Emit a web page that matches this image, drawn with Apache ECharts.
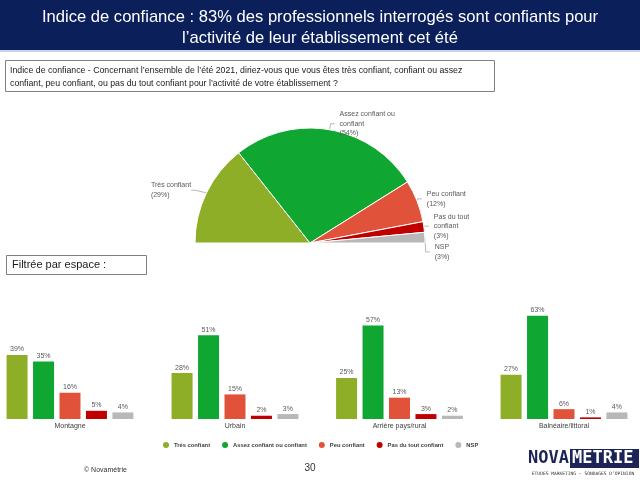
<!DOCTYPE html>
<html><head><meta charset="utf-8">
<script src="https://cdn.jsdelivr.net/npm/echarts@6/dist/echarts.min.js"></script>
<style>html,body{margin:0;padding:0;background:#fff}#c{width:640px;height:480px}</style>
</head><body><div id="c"></div>
<script>
const titleLines = ['Indice de confiance : 83% des professionnels interrogés sont confiants pour', 'l’activité de leur établissement cet été'];
const questionLines = ['Indice de confiance - Concernant l’ensemble de l’été 2021, diriez-vous que vous êtes très confiant, confiant ou assez', 'confiant, peu confiant, ou pas du tout confiant pour l’activité de votre établissement ?'];
const filterLabel = 'Filtrée par espace :';
const answerNames = ['Très confiant', 'Assez confiant ou confiant', 'Peu confiant', 'Pas du tout confiant', 'NSP'];
const pieLabelNames = ['Très confiant', 'Assez confiant ou\nconfiant', 'Peu confiant', 'Pas du tout\nconfiant', 'NSP'];
const pieValues = [29, 54, 12, 3, 3];
const spaces = ['Montagne', 'Urbain', 'Arrière pays/rural', 'Balnéaire/littoral'];
const tresConfiant = [39, 28, 25, 27];
const assezConfiant = [35, 51, 57, 63];
const peuConfiant = [16, 15, 13, 6];
const pasDuTout = [5, 2, 3, 1];
const nsp = [4, 3, 2, 4];
const barSeriesValues = [tresConfiant, assezConfiant, peuConfiant, pasDuTout, nsp];
const pageNumber = '30';
const copyright = '© Novamétrie';

const colors = ['#8FAE28', '#10A632', '#E0533A', '#C00000', '#B8B8B8'];
const FONT = 'Liberation Sans, Arial, sans-serif';
const groupCenters = [70, 235, 399.5, 564];
const groupWidth = 140;

const chart = echarts.init(document.getElementById('c'), null, {renderer: 'canvas'});

const grids = spaces.map((s, g) => ({left: groupCenters[g] - groupWidth / 2, width: groupWidth, top: 255, bottom: 61}));
const xAxes = spaces.map((s, g) => ({
  type: 'category', gridIndex: g, data: [s],
  axisLine: {show: false}, axisTick: {show: false},
  axisLabel: {fontSize: 7, color: '#404040', margin: 4, fontFamily: FONT}
}));
const yAxes = spaces.map((s, g) => ({type: 'value', gridIndex: g, min: 0, max: 100, show: false, splitLine: {show: false}}));
const barSeries = [];
spaces.forEach((s, g) => {
  answerNames.forEach((n, i) => {
    barSeries.push({
      type: 'bar', name: n, data: [barSeriesValues[i][g]], xAxisIndex: g, yAxisIndex: g,
      barWidth: 21, barGap: '26%',
      itemStyle: {color: colors[i]},
      label: {show: true, position: 'top', formatter: '{c}%', fontSize: 7, color: '#595959', fontFamily: FONT, distance: 2},
      silent: true
    });
  });
});

const option = {
  animation: false,
  textStyle: {fontFamily: FONT},
  graphic: [
    {type: 'rect', shape: {x: 0, y: 0, width: 640, height: 50}, style: {fill: '#0B1F5B'}},
    {type: 'rect', shape: {x: 0, y: 50, width: 640, height: 2}, style: {fill: '#C9D3E6'}},
    {type: 'text', x: 320, y: 17, style: {text: titleLines[0], fill: '#fff', font: '16.6px ' + FONT, align: 'center', verticalAlign: 'middle'}},
    {type: 'text', x: 320, y: 38, style: {text: titleLines[1], fill: '#fff', font: '16.6px ' + FONT, align: 'center', verticalAlign: 'middle'}},
    {type: 'rect', shape: {x: 5.5, y: 60.5, width: 489, height: 31}, style: {fill: 'none', stroke: '#7F7F7F', lineWidth: 1}},
    {type: 'text', x: 10, y: 71, style: {text: questionLines[0], fill: '#1a1a1a', font: '8.75px ' + FONT, verticalAlign: 'middle'}},
    {type: 'text', x: 10, y: 84, style: {text: questionLines[1], fill: '#1a1a1a', font: '8.75px ' + FONT, verticalAlign: 'middle'}},
    {type: 'rect', shape: {x: 6.5, y: 255.5, width: 140, height: 19}, style: {fill: '#fff', stroke: '#7F7F7F', lineWidth: 1}},
    {type: 'text', x: 12, y: 265, style: {text: filterLabel, fill: '#1a1a1a', font: '11px ' + FONT, verticalAlign: 'middle'}},
    {type: 'text', x: 84, y: 470, style: {text: copyright, fill: '#333', font: '7px ' + FONT, verticalAlign: 'middle'}},
    {type: 'text', x: 310, y: 468, style: {text: pageNumber, fill: '#333', font: '10px ' + FONT, align: 'center', verticalAlign: 'middle'}},
    {type: 'text', x: 528, y: 459, style: {text: 'NOVA', fill: '#1B2357', font: 'bold 17px DejaVu Sans Mono, monospace', verticalAlign: 'middle'}},
    {type: 'rect', shape: {x: 570, y: 449, width: 69, height: 19}, style: {fill: '#1B2357'}},
    {type: 'text', x: 572, y: 459, style: {text: 'METRIE', fill: '#fff', font: 'bold 17px DejaVu Sans Mono, monospace', verticalAlign: 'middle'}},
    {type: 'text', x: 583, y: 474, style: {text: 'ETUDES MARKETING - SONDAGES D’OPINION', fill: '#333', font: '4.6px DejaVu Sans Mono, monospace', align: 'center', verticalAlign: 'middle'}}
  ],
  legend: {
    data: answerNames, left: 158, top: 437, icon: 'circle', itemWidth: 6, itemHeight: 6, itemGap: 12,
    textStyle: {fontSize: 5.8, color: '#404040', fontWeight: 'bold', fontFamily: FONT}, selectedMode: false
  },
  grid: grids,
  xAxis: xAxes,
  yAxis: yAxes,
  series: [
    {
      type: 'pie', center: [310, 243], radius: 115, startAngle: 180, endAngle: 0,
      silent: true, legendHoverLink: false,
      data: pieValues.map((v, i) => ({name: answerNames[i], value: v, itemStyle: {color: colors[i]}})),
      itemStyle: {borderColor: '#fff', borderWidth: 1},
      label: {
        show: true, position: 'outside', fontSize: 7, lineHeight: 9.5, color: '#595959', fontFamily: FONT,
        formatter: p => pieLabelNames[p.dataIndex] + '\n(' + p.value + '%)'
      },
      labelLine: {show: true, length: 6, length2: 4, lineStyle: {color: '#A6A6A6', width: 0.8}},
      labelLayout: p => (p.dataIndex === 0 ? {align: 'left', x: p.labelRect.x - 1} : {})
    },
    ...barSeries
  ]
};
chart.setOption(option);
</script>
</body></html>
